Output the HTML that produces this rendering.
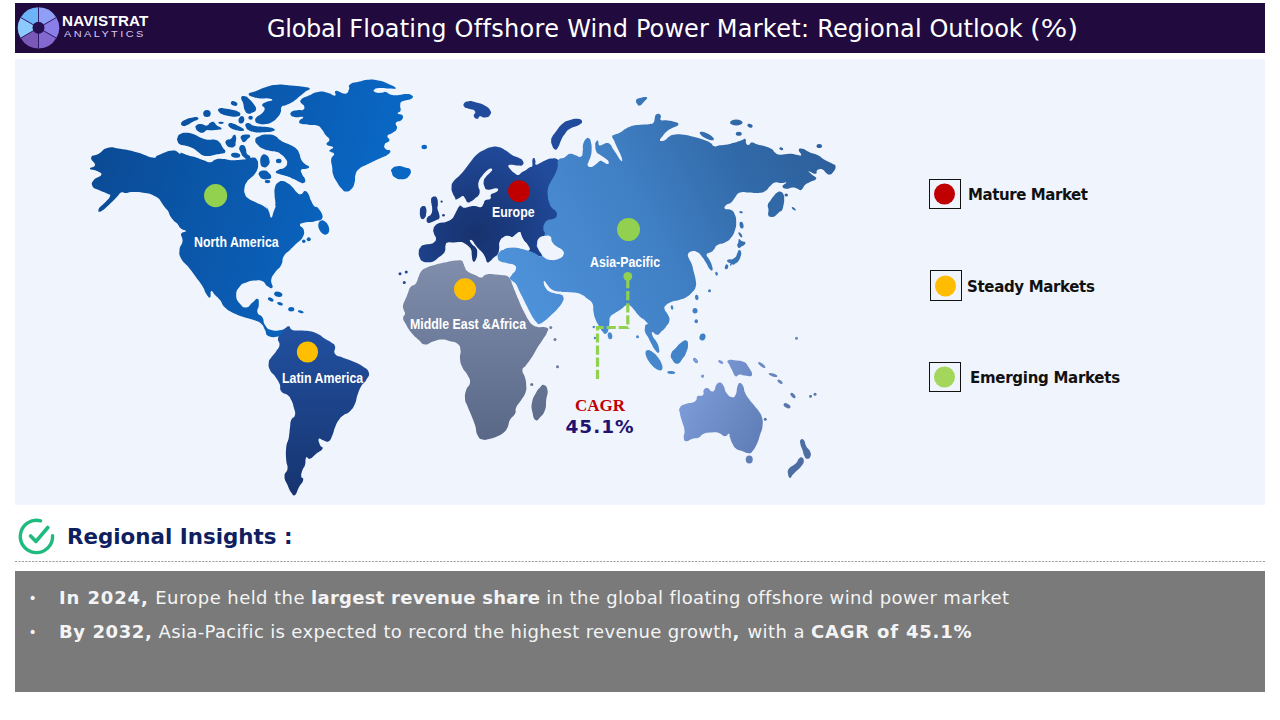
<!DOCTYPE html>
<html><head><meta charset="utf-8"><title>Global Floating Offshore Wind Power Market</title>
<style>
html,body{margin:0;padding:0;background:#fff;}
body{width:1280px;height:720px;position:relative;overflow:hidden;font-family:"DejaVu Sans","Liberation Sans",sans-serif;}
.abs{position:absolute;white-space:nowrap;}
#hdr{left:15px;top:3px;width:1250px;height:49.6px;background:#210a3e;}
#title{left:266.9px;top:12.5px;font-size:24px;color:#fff;white-space:pre;line-height:32px;}
#panel{left:15px;top:59px;width:1250px;height:446px;background:#f0f4fc;}
.lbl{color:#fff;font-family:"Liberation Sans",sans-serif;font-weight:bold;font-size:14.5px;transform-origin:0 50%;}
.leg{font-weight:bold;font-size:15px;letter-spacing:-0.42px;color:#111;}
.box{border:1.3px solid #111;box-sizing:border-box;background:#f0f4fc;}
#ins{left:67px;top:522px;font-weight:bold;font-size:21.4px;color:#0f2060;line-height:30px;}
#grey{left:15px;top:571px;width:1250px;height:121px;background:#7a7a7a;}
.bl{color:#f4f4f4;font-size:18px;line-height:24px;white-space:pre;}
.dot{color:#f4f4f4;font-size:14px;line-height:24px;}
.bl b{font-weight:bold;}
</style></head><body>
<div class="abs" id="hdr"></div>
<div class="abs" id="panel"></div>
<svg class="abs" style="left:0;top:0" width="1280" height="720" viewBox="0 0 1280 720">
<defs>
<linearGradient id="gna" gradientUnits="userSpaceOnUse" x1="90" y1="150" x2="400" y2="250"><stop offset="0" stop-color="#0b4a94"/><stop offset="0.36" stop-color="#0a56a8"/><stop offset="0.6" stop-color="#0a5db4"/><stop offset="0.85" stop-color="#0967c4"/></linearGradient>
<linearGradient id="gsa" gradientUnits="userSpaceOnUse" x1="300" y1="330" x2="300" y2="495"><stop offset="0" stop-color="#21509f"/><stop offset="1" stop-color="#17346f"/></linearGradient>
<linearGradient id="gaf" gradientUnits="userSpaceOnUse" x1="470" y1="265" x2="470" y2="440"><stop offset="0" stop-color="#7f8dab"/><stop offset="1" stop-color="#596887"/></linearGradient>
<radialGradient id="geu" gradientUnits="userSpaceOnUse" cx="476" cy="234" r="95"><stop offset="0" stop-color="#17326e"/><stop offset="0.45" stop-color="#1b3c81"/><stop offset="1" stop-color="#214b9c"/></radialGradient>
<linearGradient id="gas" gradientUnits="userSpaceOnUse" x1="520" y1="300" x2="830" y2="140"><stop offset="0" stop-color="#4e92da"/><stop offset="0.45" stop-color="#3f7ec2"/><stop offset="0.75" stop-color="#3169a8"/><stop offset="1" stop-color="#2d5f9a"/></linearGradient>
<linearGradient id="goc" gradientUnits="userSpaceOnUse" x1="680" y1="390" x2="765" y2="440"><stop offset="0" stop-color="#7f9eda"/><stop offset="1" stop-color="#5e7db6"/></linearGradient>
</defs>
<g fill="url(#gna)"><path d="M90.0 168.8C89.3 167.1 94.7 168.0 95.0 165.0C95.3 162.0 90.2 160.5 91.2 157.5C92.2 154.5 94.4 156.3 98.8 153.8C103.1 151.2 101.8 149.3 107.5 148.0C113.2 146.7 112.0 147.6 120.0 148.8C128.0 149.9 128.8 150.2 137.5 152.5C146.2 154.8 146.8 156.8 152.5 157.5C158.2 158.2 153.4 156.9 158.8 155.0C164.1 153.1 166.8 150.8 172.5 150.5C178.2 150.2 177.7 153.1 180.0 153.8C182.3 154.4 178.9 152.3 181.2 152.8C183.6 153.3 184.8 154.4 188.8 155.6C192.8 156.9 192.2 156.2 196.2 157.5C200.2 158.8 200.0 159.1 203.8 160.3C207.5 161.6 207.1 162.4 210.3 162.2C213.6 161.9 212.4 160.2 215.9 159.4C219.4 158.5 219.2 158.8 223.4 159.0C227.7 159.2 227.4 160.1 231.9 160.3C236.4 160.5 236.3 160.1 240.3 159.8C244.3 159.4 243.4 159.6 246.9 159.0C250.4 158.4 250.7 157.2 253.4 157.5C256.2 157.8 255.9 158.3 257.2 160.3C258.4 162.3 258.1 162.5 258.1 165.0C258.1 167.5 258.2 167.2 257.2 169.7C256.2 172.2 256.1 172.1 254.4 174.4C252.6 176.6 252.6 176.1 250.6 178.1C248.6 180.1 248.5 179.4 246.9 181.9C245.3 184.4 245.1 184.3 244.6 187.5C244.1 190.7 243.9 191.1 245.0 194.1C246.1 197.1 245.8 196.5 248.8 198.8C251.8 201.0 252.2 200.5 256.2 202.5C260.2 204.5 260.5 204.2 263.8 206.2C267.0 208.2 268.1 210.3 268.4 210.0C268.8 209.7 264.9 204.7 265.0 205.0C265.1 205.3 267.1 207.9 268.8 211.2C270.4 214.6 269.9 217.5 271.2 217.5C272.6 217.5 272.4 214.6 273.8 211.2C275.1 207.9 275.9 206.3 276.2 205.0C276.6 203.7 275.2 206.9 275.0 206.2C274.8 205.6 275.5 205.5 275.4 202.5C275.3 199.5 274.7 199.0 274.6 195.0C274.5 191.0 274.1 190.8 275.0 187.5C275.9 184.2 275.8 184.6 277.8 182.8C279.8 181.1 279.8 180.8 282.5 180.9C285.2 181.1 285.4 181.6 288.1 183.4C290.9 185.1 290.3 184.9 292.8 187.5C295.3 190.1 295.2 191.4 297.5 193.1C299.8 194.9 299.2 194.7 301.2 194.1C303.2 193.5 303.1 190.9 305.0 190.9C306.9 190.9 306.8 191.5 308.4 194.1C310.0 196.7 309.4 197.4 311.0 200.6C312.6 203.9 312.5 204.3 314.4 206.2C316.2 208.2 315.8 205.0 318.0 208.0C320.2 211.0 323.3 214.0 322.5 217.5C321.7 221.0 319.7 219.9 315.0 221.2C310.3 222.6 309.0 221.5 305.0 222.5C301.0 223.5 300.3 223.0 300.0 225.0C299.7 227.0 303.1 226.7 303.8 230.0C304.4 233.3 304.5 233.8 302.5 237.5C300.5 241.2 299.6 240.4 296.2 243.8C292.9 247.1 293.3 246.7 290.0 250.0C286.7 253.3 286.1 252.2 283.8 256.2C281.4 260.2 283.6 260.7 281.2 265.0C278.9 269.3 277.7 268.5 275.0 272.5C272.3 276.5 271.9 276.0 271.2 280.0C270.6 284.0 273.5 285.8 272.5 287.5C271.5 289.2 270.2 287.9 267.5 286.2C264.8 284.6 265.8 282.8 262.5 281.2C259.2 279.7 259.3 280.2 255.0 280.5C250.7 280.8 250.2 281.0 246.2 282.5C242.2 284.0 242.7 282.9 240.0 286.2C237.3 289.6 236.2 290.3 236.2 295.0C236.2 299.7 237.3 300.4 240.0 303.8C242.7 307.1 242.9 307.8 246.2 307.5C249.6 307.2 249.5 304.8 252.5 302.5C255.5 300.2 255.8 298.1 257.5 298.8C259.2 299.4 258.8 301.3 258.8 305.0C258.8 308.7 256.5 309.2 257.5 312.5C258.5 315.8 260.5 314.2 262.5 317.5C264.5 320.8 262.7 321.7 265.0 325.0C267.3 328.3 266.9 328.7 271.2 330.0C275.6 331.3 277.2 330.5 281.2 330.0C285.2 329.5 285.6 327.0 286.2 328.0C286.9 329.0 285.4 331.6 283.8 333.8C282.1 335.9 284.0 335.6 280.0 336.2C276.0 336.9 272.8 337.9 268.8 336.2C264.8 334.6 267.0 333.3 265.0 330.0C263.0 326.7 264.2 326.4 261.2 323.8C258.2 321.1 258.1 321.7 253.8 320.0C249.4 318.3 250.0 319.2 245.0 317.5C240.0 315.8 240.3 316.4 235.0 313.8C229.7 311.1 229.0 311.2 225.0 307.5C221.0 303.8 222.7 303.3 220.0 300.0C217.3 296.7 217.3 297.3 215.0 295.0C212.7 292.7 212.6 290.6 211.2 291.2C209.9 291.9 211.3 296.8 210.0 297.5C208.7 298.2 208.2 296.8 206.2 293.8C204.2 290.8 205.2 290.6 202.5 286.2C199.8 281.9 199.9 282.5 196.2 277.5C192.6 272.5 192.8 272.5 188.8 267.5C184.8 262.5 183.7 263.4 181.2 258.8C178.8 254.1 179.2 254.7 179.5 250.0C179.8 245.3 182.0 245.6 182.5 241.2C183.0 236.9 180.2 236.4 181.2 233.8C182.2 231.1 186.2 232.6 186.2 231.2C186.2 229.9 183.6 230.8 181.2 228.8C178.9 226.8 179.8 227.4 177.5 223.8C175.2 220.1 175.8 219.3 172.5 215.0C169.2 210.7 168.0 211.5 165.0 207.5C162.0 203.5 155.9 194.3 161.2 200.0C166.6 205.7 180.7 222.4 185.0 228.8C189.3 235.1 181.2 226.8 177.5 223.8C173.8 220.8 173.9 221.2 171.2 217.5C168.6 213.8 169.8 214.0 167.5 210.0C165.2 206.0 165.8 206.2 162.5 202.5C159.2 198.8 159.7 198.8 155.0 196.2C150.3 193.7 151.0 194.1 145.0 193.0C139.0 191.9 137.5 192.0 132.5 192.0C127.5 192.0 129.2 192.9 126.2 193.0C123.2 193.1 123.6 191.6 121.2 192.5C118.9 193.4 120.5 193.2 117.5 196.2C114.5 199.2 114.3 199.8 110.0 203.8C105.7 207.8 104.2 209.9 101.2 211.2C98.2 212.6 97.8 211.1 98.8 208.8C99.8 206.4 102.0 205.8 105.0 202.5C108.0 199.2 109.3 198.6 110.0 196.2C110.7 193.9 110.5 195.4 107.5 193.8C104.5 192.1 102.8 192.0 98.8 190.0C94.8 188.0 93.8 188.9 92.5 186.2C91.2 183.6 91.4 183.0 93.8 180.0C96.1 177.0 100.2 177.3 101.2 175.0C102.2 172.7 100.5 172.9 97.5 171.2C94.5 169.6 90.7 170.4 90.0 168.8Z"/><path d="M301.2 99.4C303.2 97.4 304.3 97.6 308.8 95.6C313.2 93.6 313.1 92.6 318.1 91.9C323.1 91.1 323.0 91.8 327.5 92.8C332.0 93.8 332.7 96.1 335.0 95.6C337.3 95.1 333.2 91.4 335.9 90.9C338.7 90.4 341.8 94.3 345.3 93.8C348.8 93.2 347.8 91.6 349.1 89.1C350.3 86.6 347.2 86.4 350.0 84.4C352.8 82.4 354.4 82.8 359.4 81.6C364.4 80.3 363.8 79.9 368.8 79.7C373.7 79.4 373.1 79.6 378.1 80.6C383.1 81.6 382.7 81.4 387.5 83.4C392.3 85.4 395.4 86.8 395.9 88.1C396.4 89.5 393.6 88.5 389.4 88.5C385.1 88.5 384.0 87.8 380.0 88.1C376.0 88.4 375.6 88.5 374.4 89.6C373.1 90.7 373.3 91.4 375.3 92.2C377.3 93.1 379.1 92.9 381.9 92.8C384.6 92.7 383.1 91.4 385.6 91.9C388.1 92.4 388.0 93.8 391.2 94.7C394.5 95.6 394.1 95.4 397.8 95.2C401.6 95.1 401.8 94.3 405.3 94.1C408.8 94.0 409.2 93.5 410.9 94.7C412.7 95.8 414.1 96.7 411.9 98.4C409.6 100.2 405.6 99.5 402.5 101.2C399.4 103.0 400.8 102.5 400.2 105.0C399.7 107.5 401.3 108.4 400.6 110.6C400.0 112.9 397.3 112.2 397.8 113.4C398.3 114.7 401.5 113.6 402.5 115.3C403.5 117.1 403.3 118.0 401.6 120.0C399.8 122.0 397.2 120.6 395.9 122.8C394.7 125.1 397.9 125.7 396.9 128.4C395.9 131.2 394.7 131.1 392.2 133.1C389.7 135.1 388.2 133.9 387.5 135.9C386.8 137.9 390.1 138.4 389.4 140.6C388.6 142.9 385.7 142.1 384.7 144.4C383.7 146.6 384.1 147.3 385.6 149.1C387.1 150.8 389.8 149.4 390.3 150.9C390.8 152.4 389.7 152.9 387.5 154.7C385.3 156.4 385.4 155.8 381.9 157.5C378.4 159.2 378.4 159.0 374.4 160.9C370.4 162.8 370.9 162.5 366.9 164.6C362.9 166.7 362.4 166.1 359.4 168.8C356.4 171.4 356.9 170.9 355.6 174.4C354.4 177.9 355.7 178.1 354.7 181.9C353.7 185.6 354.1 185.8 351.9 188.4C349.6 191.0 349.0 191.6 346.2 191.6C343.5 191.6 344.1 191.0 341.6 188.4C339.1 185.8 339.1 185.6 336.9 181.9C334.6 178.1 334.4 178.4 333.1 174.4C331.9 170.4 332.7 170.9 332.2 166.9C331.7 162.9 330.8 162.9 331.2 159.4C331.7 155.9 334.6 156.0 334.1 153.8C333.6 151.5 329.6 152.7 329.4 150.9C329.1 149.2 333.9 148.9 333.1 147.2C332.4 145.4 327.6 146.4 326.6 144.4C325.6 142.4 329.6 142.2 329.4 139.7C329.1 137.2 327.6 137.7 325.6 135.0C323.6 132.3 324.1 131.9 321.9 129.4C319.6 126.9 320.7 126.9 317.2 125.6C313.7 124.4 313.0 125.2 308.8 124.7C304.5 124.2 303.7 124.8 301.2 123.8C298.8 122.8 298.9 122.7 299.4 120.9C299.9 119.2 304.1 118.2 303.1 117.2C302.1 116.2 298.9 117.7 295.6 117.2C292.4 116.7 291.9 116.8 290.9 115.3C289.9 113.8 290.1 112.9 291.9 111.6C293.6 110.2 294.5 110.7 297.5 110.2C300.5 109.8 301.4 110.8 303.1 109.7C304.9 108.5 304.6 107.7 304.1 105.9C303.6 104.2 302.0 104.9 301.2 103.1C300.5 101.4 299.2 101.4 301.2 99.4Z"/><path d="M248.8 93.8C249.5 92.1 251.8 92.7 256.2 90.9C260.7 89.2 260.1 88.8 265.6 87.2C271.1 85.5 270.9 85.3 276.9 84.8C282.9 84.2 281.6 84.8 288.1 85.3C294.6 85.8 295.5 85.8 301.2 86.6C307.0 87.5 308.7 87.1 309.7 88.5C310.7 89.9 307.7 89.7 305.0 91.9C302.3 94.0 302.4 94.1 299.4 96.6C296.4 99.1 297.3 99.0 293.8 101.2C290.2 103.5 289.5 103.5 286.2 105.0C283.0 106.5 283.1 104.9 281.6 106.9C280.1 108.9 281.9 109.5 280.6 112.5C279.4 115.5 279.1 115.6 276.9 118.1C274.6 120.6 275.2 120.3 272.2 121.9C269.2 123.5 269.1 123.6 265.6 124.1C262.1 124.6 261.8 124.6 259.1 123.8C256.3 122.9 255.8 122.8 255.3 120.9C254.8 119.0 255.4 118.6 257.2 116.6C258.9 114.6 259.9 115.5 261.9 113.4C263.9 111.3 264.6 111.0 264.7 108.8C264.8 106.5 262.0 106.7 262.2 105.0C262.5 103.3 263.0 103.4 265.6 102.2C268.3 100.9 271.4 101.3 272.2 100.3C272.9 99.3 271.7 98.9 268.4 98.4C265.2 97.9 264.0 98.8 260.0 98.4C256.0 98.1 256.4 98.4 253.4 97.1C250.4 95.9 248.0 95.4 248.8 93.8Z"/><path d="M241.2 97.5C241.8 95.7 242.7 95.7 245.0 96.2C247.3 96.7 247.2 97.0 249.7 99.4C252.2 101.7 252.7 102.3 254.4 105.0C256.0 107.7 256.4 107.7 255.9 109.7C255.4 111.7 254.7 111.5 252.5 112.5C250.3 113.5 249.9 114.2 247.8 113.4C245.7 112.7 245.9 112.4 244.6 109.7C243.4 106.9 244.0 106.4 243.1 103.1C242.2 99.9 240.7 99.3 241.2 97.5Z"/><path d="M218.8 108.8C220.2 107.8 220.9 108.1 224.4 108.4C227.9 108.6 228.3 108.8 231.9 109.7C235.5 110.5 235.6 110.2 237.9 111.6C240.1 112.9 240.7 113.4 240.3 114.8C240.0 116.1 239.3 116.2 236.6 116.6C233.8 117.0 233.5 116.7 230.0 116.2C226.5 115.8 226.3 115.9 223.4 114.8C220.5 113.6 220.4 113.7 219.1 112.1C217.9 110.5 217.3 109.7 218.8 108.8Z"/><path d="M239.8 117.2C240.9 115.9 242.0 115.6 243.1 116.6C244.3 117.6 244.6 119.1 244.1 120.9C243.6 122.7 242.7 123.2 241.2 123.4C239.8 123.5 239.0 123.2 238.6 121.5C238.2 119.8 238.6 118.5 239.8 117.2Z"/><path d="M181.2 122.8C182.0 121.1 183.2 121.0 185.9 119.6C188.7 118.3 188.6 118.4 191.6 117.8C194.6 117.1 195.5 116.7 197.2 117.2C198.8 117.7 199.0 118.4 197.8 119.6C196.5 120.9 195.2 120.5 192.5 121.9C189.8 123.2 190.3 123.6 187.8 124.7C185.3 125.8 184.9 126.5 183.1 126.0C181.4 125.5 180.5 124.5 181.2 122.8Z"/><path d="M196.2 125.6C197.6 124.5 198.2 124.1 200.9 124.1C203.7 124.1 204.1 126.0 206.6 125.6C209.1 125.3 208.3 123.7 210.3 122.8C212.3 121.9 212.3 121.5 214.1 122.2C215.8 123.0 214.9 124.0 216.9 125.6C218.9 127.3 221.3 127.3 221.6 128.4C221.8 129.5 220.6 129.3 217.8 129.8C215.1 130.2 214.2 130.2 211.2 130.3C208.2 130.5 208.8 129.7 206.6 130.3C204.3 131.0 205.1 132.5 202.8 132.8C200.6 133.0 200.0 132.4 198.1 131.2C196.3 130.1 196.4 129.9 195.9 128.4C195.4 126.9 194.9 126.8 196.2 125.6Z"/><path d="M228.5 124.1C229.2 123.0 230.2 122.9 232.8 123.4C235.5 123.9 235.4 124.3 238.4 126.0C241.4 127.7 243.6 128.4 244.1 129.8C244.6 131.1 242.8 130.9 240.3 130.9C237.8 130.9 237.4 130.7 234.7 129.8C231.9 128.8 231.7 129.0 230.0 127.5C228.3 126.0 227.8 125.2 228.5 124.1Z"/><path d="M245.9 123.8C246.9 122.8 247.7 122.9 249.7 123.4C251.7 123.9 250.7 124.8 253.4 125.6C256.2 126.5 256.3 126.2 260.0 126.6C263.7 127.0 263.8 126.5 267.5 127.1C271.2 127.8 272.7 127.9 274.1 129.0C275.5 130.1 275.5 130.4 272.8 131.2C270.0 132.1 268.4 131.9 263.8 132.2C259.1 132.4 259.3 132.7 255.3 132.2C251.3 131.7 251.2 131.7 248.8 130.3C246.3 129.0 246.7 128.9 245.9 127.1C245.2 125.4 244.9 124.7 245.9 123.8Z"/><path d="M177.5 137.8C178.2 136.0 177.8 135.4 180.3 134.1C182.8 132.7 183.1 132.6 186.9 132.8C190.6 132.9 190.6 133.3 194.4 134.6C198.1 136.0 197.4 136.5 200.9 137.8C204.4 139.2 203.8 139.2 207.5 139.7C211.2 140.2 211.7 138.9 215.0 139.7C218.3 140.4 217.7 140.5 219.7 142.5C221.7 144.5 221.0 144.7 222.5 147.2C224.0 149.7 225.8 150.1 225.3 151.9C224.8 153.6 223.4 153.0 220.6 153.8C217.9 154.5 218.2 154.1 215.0 154.7C211.8 155.3 211.7 155.9 208.4 156.0C205.2 156.1 205.6 156.3 202.8 155.2C200.1 154.2 200.9 153.8 198.1 151.9C195.4 150.0 195.5 149.7 192.5 148.1C189.5 146.5 190.1 146.9 186.9 145.9C183.6 144.9 182.8 145.7 180.3 144.4C177.8 143.1 178.2 142.8 177.5 141.0C176.8 139.2 176.8 139.7 177.5 137.8Z"/><path d="M226.2 140.6C227.5 139.1 228.9 140.2 230.9 138.8C232.9 137.3 232.4 135.5 233.8 135.0C235.1 134.5 235.5 134.9 236.0 136.9C236.5 138.9 236.0 140.0 235.6 142.5C235.3 145.0 236.2 145.0 234.7 146.2C233.2 147.5 232.3 147.7 230.0 147.2C227.7 146.7 227.2 146.1 226.2 144.4C225.2 142.6 225.0 142.1 226.2 140.6Z"/><path d="M241.2 135.9C242.7 134.6 244.5 134.6 246.9 134.6C249.3 134.6 250.0 134.8 250.2 135.9C250.5 137.0 249.5 137.1 247.8 138.8C246.2 140.4 245.7 141.9 244.1 142.1C242.4 142.4 242.4 141.3 241.6 139.7C240.9 138.0 239.8 137.3 241.2 135.9Z"/><path d="M239.4 147.2C240.1 145.2 241.8 144.8 243.5 145.3C245.2 145.8 245.0 146.8 245.9 149.1C246.8 151.3 245.7 151.8 246.9 153.8C248.0 155.8 249.8 155.1 250.2 156.6C250.7 158.1 250.4 159.1 248.8 159.4C247.1 159.6 246.2 159.3 244.1 157.5C242.0 155.7 242.1 155.6 240.9 152.8C239.6 150.1 238.7 149.2 239.4 147.2Z"/><path d="M255.3 139.7C255.8 137.2 256.7 137.3 260.0 135.9C263.3 134.6 263.5 134.6 267.5 134.6C271.5 134.6 271.7 134.6 275.0 135.9C278.3 137.3 277.2 137.9 279.7 139.7C282.2 141.4 281.4 141.0 284.4 142.5C287.4 144.0 287.7 143.6 290.9 145.3C294.2 147.1 294.3 146.8 296.6 149.1C298.8 151.3 298.1 151.0 299.4 153.8C300.6 156.5 299.8 156.6 301.2 159.4C302.7 162.1 302.9 162.1 305.0 164.1C307.1 166.1 308.9 165.6 309.1 166.9C309.4 168.1 308.0 168.0 305.9 168.8C303.8 169.5 302.2 168.2 301.2 169.7C300.2 171.2 301.2 171.9 302.2 174.4C303.2 176.9 304.5 176.8 305.0 179.1C305.5 181.3 305.6 182.1 304.1 182.8C302.6 183.6 302.1 182.9 299.4 181.9C296.6 180.9 297.0 180.6 293.8 179.1C290.5 177.6 290.7 177.5 287.2 176.2C283.7 175.0 283.6 175.4 280.6 174.4C277.6 173.4 276.4 173.8 275.9 172.5C275.4 171.2 276.5 170.9 278.8 169.7C281.0 168.4 282.1 169.6 284.4 167.8C286.6 166.1 286.9 165.6 287.2 163.1C287.4 160.6 286.8 160.7 285.3 158.4C283.8 156.2 283.8 156.4 281.6 154.7C279.3 152.9 279.9 152.9 276.9 151.9C273.9 150.9 273.8 151.7 270.3 150.9C266.8 150.2 267.0 150.6 263.8 149.1C260.5 147.6 260.4 147.8 258.1 145.3C255.9 142.8 254.8 142.2 255.3 139.7Z"/><path d="M261.9 155.6C263.5 153.5 264.6 154.0 266.6 155.2C268.6 156.5 268.9 157.7 269.4 160.3C269.9 162.9 269.9 163.1 268.4 165.0C266.9 166.9 265.9 167.8 263.8 167.2C261.6 166.7 260.9 166.2 260.4 163.1C259.9 160.0 260.2 157.7 261.9 155.6Z"/><path d="M259.1 172.5C260.2 171.0 261.2 170.6 263.8 170.6C266.3 170.6 266.4 170.7 268.4 172.5C270.4 174.3 271.5 175.4 271.2 177.2C271.0 178.9 269.8 178.6 267.5 179.1C265.2 179.6 264.9 179.8 262.8 179.1C260.7 178.3 260.6 178.0 259.6 176.2C258.6 174.5 258.0 174.0 259.1 172.5Z"/><path d="M392.0 168.8C393.5 167.1 394.0 166.6 397.5 166.2C401.0 165.9 401.5 166.5 405.0 167.5C408.5 168.5 409.5 167.7 410.5 170.0C411.5 172.3 410.9 173.8 408.8 176.2C406.6 178.7 406.2 178.9 402.5 179.2C398.8 179.6 397.9 179.3 395.0 177.5C392.1 175.7 392.6 174.8 391.8 172.5C390.9 170.2 390.5 170.4 392.0 168.8Z"/></g>
<ellipse fill="url(#gna)" cx="234.12" cy="103.5" rx="3.38" ry="2.25" transform="rotate(20 234.12 103.5)"/>
<ellipse fill="url(#gna)" cx="206.94" cy="113.44" rx="3.75" ry="3.56"/>
<ellipse fill="url(#gna)" cx="250.62" cy="117.75" rx="2.25" ry="2.06"/>
<ellipse fill="url(#gna)" cx="221.0" cy="122.81" rx="2.81" ry="1.12"/>
<ellipse fill="url(#gna)" cx="235.62" cy="155.25" rx="4.69" ry="2.44" transform="rotate(10 235.62 155.25)"/>
<ellipse fill="url(#gna)" cx="278.75" cy="160.88" rx="2.81" ry="2.25"/>
<ellipse fill="url(#gna)" cx="267.5" cy="181.5" rx="2.81" ry="1.69"/>
<ellipse fill="url(#gna)" cx="424.25" cy="147.0" rx="2.75" ry="2.25"/>
<ellipse fill="url(#gna)" cx="323.75" cy="227.5" rx="5.0" ry="7.5" transform="rotate(-25 323.75 227.5)"/>
<ellipse fill="url(#gna)" cx="303.75" cy="241.25" rx="1.75" ry="1.75"/>
<ellipse fill="url(#gna)" cx="308.75" cy="239.25" rx="2.0" ry="2.0"/>
<ellipse fill="url(#gna)" cx="278.25" cy="294.25" rx="4.25" ry="2.5" transform="rotate(15 278.25 294.25)"/>
<ellipse fill="url(#gna)" cx="270.75" cy="299.5" rx="3.0" ry="1.75" transform="rotate(25 270.75 299.5)"/>
<ellipse fill="url(#gna)" cx="280.0" cy="303.75" rx="3.0" ry="1.5" transform="rotate(20 280.0 303.75)"/>
<ellipse fill="url(#gna)" cx="291.25" cy="309.25" rx="3.0" ry="2.25"/>
<ellipse fill="url(#gna)" cx="300.75" cy="311.75" rx="3.0" ry="1.25" transform="rotate(15 300.75 311.75)"/>
<g fill="url(#gsa)"><path d="M288.8 326.2C290.8 326.6 289.5 328.9 292.5 330.0C295.5 331.1 295.3 330.2 300.0 330.5C304.7 330.8 305.3 330.4 310.0 331.2C314.7 332.1 313.5 331.8 317.5 333.8C321.5 335.8 321.3 336.4 325.0 338.8C328.7 341.1 328.6 340.5 331.2 342.5C333.9 344.5 334.0 343.2 335.0 346.2C336.0 349.2 333.0 350.8 335.0 353.8C337.0 356.8 337.8 355.5 342.5 357.5C347.2 359.5 347.2 358.9 352.5 361.2C357.8 363.6 358.2 363.2 362.5 366.2C366.8 369.2 367.8 368.8 368.8 372.5C369.8 376.2 368.2 376.3 366.2 380.0C364.2 383.7 363.6 382.2 361.2 386.2C358.9 390.2 359.2 390.3 357.5 395.0C355.8 399.7 357.0 399.4 355.0 403.8C353.0 408.1 353.0 408.2 350.0 411.2C347.0 414.2 346.8 412.7 343.8 415.0C340.8 417.3 341.1 416.7 338.8 420.0C336.4 423.3 336.7 423.5 335.0 427.5C333.3 431.5 334.2 431.3 332.5 435.0C330.8 438.7 331.1 439.8 328.8 441.2C326.4 442.7 326.4 441.2 323.8 440.5C321.1 439.8 319.8 437.6 318.8 438.8C317.8 439.9 319.0 442.3 320.0 445.0C321.0 447.7 323.5 446.4 322.5 448.8C321.5 451.1 319.6 451.1 316.2 453.8C312.9 456.4 312.7 457.8 310.0 458.8C307.3 459.8 307.6 455.8 306.2 457.5C304.9 459.2 306.0 461.7 305.0 465.0C304.0 468.3 303.5 467.0 302.5 470.0C301.5 473.0 301.1 473.6 301.2 476.2C301.4 478.9 303.9 477.0 303.2 480.0C302.6 483.0 300.9 483.5 298.8 487.5C296.6 491.5 297.0 493.7 295.0 495.0C293.0 496.3 293.2 495.2 291.2 492.5C289.2 489.8 289.3 489.3 287.5 485.0C285.7 480.7 284.5 480.6 284.5 476.2C284.5 471.9 287.0 473.1 287.5 468.8C288.0 464.4 286.6 465.7 286.2 460.0C285.9 454.3 285.6 453.5 286.2 447.5C286.9 441.5 287.8 442.8 288.8 437.5C289.8 432.2 289.3 432.2 290.0 427.5C290.7 422.8 289.9 423.3 291.2 420.0C292.6 416.7 294.3 418.3 295.0 415.0C295.7 411.7 294.8 411.5 293.8 407.5C292.8 403.5 292.9 403.3 291.2 400.0C289.6 396.7 290.2 397.3 287.5 395.0C284.8 392.7 283.4 394.2 281.2 391.2C279.1 388.2 281.2 387.8 279.5 383.8C277.8 379.8 277.5 379.9 275.0 376.2C272.5 372.6 271.7 373.7 270.0 370.0C268.3 366.3 268.4 365.8 268.8 362.5C269.1 359.2 269.2 360.5 271.2 357.5C273.2 354.5 274.1 354.6 276.2 351.2C278.4 347.9 279.0 348.3 279.5 345.0C280.0 341.7 277.5 341.8 278.0 338.8C278.5 335.8 279.4 336.4 281.2 333.8C283.1 331.1 283.0 330.8 285.0 328.8C287.0 326.8 286.8 325.9 288.8 326.2Z"/></g>
<g fill="url(#gaf)"><path d="M421.9 270.6C424.0 268.3 424.0 268.8 426.9 267.5C429.7 266.2 429.0 266.7 432.5 265.6C436.0 264.6 436.0 264.5 440.0 263.5C444.0 262.5 443.5 262.6 447.5 261.9C451.5 261.1 451.3 261.0 455.0 260.6C458.7 260.3 459.0 259.8 461.2 260.6C463.5 261.5 462.5 261.9 463.5 263.8C464.5 265.6 463.9 265.5 465.0 267.5C466.1 269.5 464.8 269.2 467.5 271.2C470.2 273.2 471.3 273.3 475.0 275.0C478.7 276.7 478.6 277.5 481.2 277.5C483.9 277.5 482.7 275.9 485.0 275.0C487.3 274.1 487.3 274.2 490.0 274.0C492.7 273.8 492.0 274.1 495.0 274.4C498.0 274.6 497.9 274.5 501.2 275.0C504.6 275.5 505.0 274.9 507.5 276.2C510.0 277.6 509.3 277.7 510.6 280.0C512.0 282.3 511.3 282.0 512.5 285.0C513.7 288.0 513.5 287.6 515.0 291.2C516.5 294.9 516.5 294.8 518.1 298.8C519.8 302.8 519.4 302.2 521.2 306.2C523.1 310.2 523.0 309.9 525.0 313.8C527.0 317.6 526.8 317.7 528.8 320.6C530.8 323.6 530.2 323.1 532.5 324.8C534.8 326.4 533.7 326.1 537.5 326.9C541.3 327.7 544.3 326.3 546.9 327.8C549.4 329.2 548.2 329.2 547.0 332.5C545.8 335.8 545.0 336.0 542.5 340.0C540.0 344.0 540.2 343.2 537.5 347.5C534.8 351.8 535.5 351.6 532.5 356.2C529.5 360.9 528.9 361.3 526.2 365.0C523.6 368.7 522.8 366.7 522.5 370.0C522.2 373.3 524.0 373.5 525.0 377.5C526.0 381.5 526.1 381.0 526.2 385.0C526.4 389.0 526.8 388.5 525.5 392.5C524.2 396.5 523.7 396.0 521.2 400.0C518.8 404.0 517.9 403.8 516.2 407.5C514.6 411.2 516.7 410.4 515.0 413.8C513.3 417.1 512.0 416.3 510.0 420.0C508.0 423.7 509.2 424.2 507.5 427.5C505.8 430.8 506.4 430.2 503.8 432.5C501.1 434.8 501.2 434.6 497.5 436.2C493.8 437.9 494.0 437.9 490.0 438.8C486.0 439.6 485.8 440.5 482.5 439.5C479.2 438.5 479.5 438.9 477.5 435.0C475.5 431.1 476.7 430.3 475.0 425.0C473.3 419.7 473.2 420.0 471.2 415.0C469.2 410.0 469.2 410.6 467.5 406.2C465.8 401.9 465.3 403.1 465.0 398.8C464.7 394.4 464.9 394.3 466.2 390.0C467.6 385.7 469.7 386.5 470.0 382.5C470.3 378.5 469.5 379.0 467.5 375.0C465.5 371.0 464.5 371.8 462.5 367.5C460.5 363.2 460.5 363.4 460.0 358.8C459.5 354.1 461.2 354.0 460.5 350.0C459.8 346.0 460.3 346.1 457.5 343.8C454.7 341.4 454.0 342.4 450.0 341.2C446.0 340.1 446.8 339.5 442.5 339.5C438.2 339.5 438.4 339.9 433.8 341.2C429.1 342.6 429.0 344.7 425.0 344.4C421.0 344.0 422.4 343.2 418.8 340.0C415.1 336.8 414.8 336.8 411.2 332.5C407.7 328.2 407.8 327.6 405.6 323.8C403.5 319.9 403.3 320.8 403.1 318.1C403.0 315.5 404.8 315.9 405.0 313.8C405.2 311.6 404.3 312.3 403.8 310.0C403.2 307.7 402.5 308.3 403.1 305.0C403.8 301.7 404.9 300.8 406.2 297.5C407.6 294.2 407.0 295.3 408.1 292.5C409.3 289.7 408.6 289.2 410.6 286.9C412.6 284.5 413.5 286.6 415.6 283.8C417.8 280.9 417.1 279.8 418.8 276.2C420.4 272.7 419.7 273.0 421.9 270.6Z"/><path d="M543.8 385.0C545.8 385.7 546.8 386.0 547.5 390.0C548.2 394.0 546.9 394.7 546.2 400.0C545.6 405.3 546.7 405.3 545.0 410.0C543.3 414.7 542.5 414.8 540.0 417.5C537.5 420.2 537.5 421.3 535.5 420.0C533.5 418.7 533.4 417.2 532.5 412.5C531.6 407.8 531.0 407.8 532.0 402.5C533.0 397.2 534.1 396.5 536.2 392.5C538.4 388.5 538.0 389.5 540.0 387.5C542.0 385.5 541.8 384.3 543.8 385.0Z"/></g>
<ellipse fill="url(#gaf)" cx="550.75" cy="327.5" rx="1.5" ry="1.5"/>
<ellipse fill="url(#gaf)" cx="555.0" cy="339.5" rx="1.5" ry="1.5"/>
<ellipse fill="url(#gaf)" cx="557.5" cy="366.75" rx="1.5" ry="1.5"/>
<ellipse fill="url(#gaf)" cx="531.75" cy="384.5" rx="1.5" ry="1.5"/>
<g fill="url(#geu)"><path d="M451.6 187.2C451.8 184.2 451.2 184.8 453.4 181.6C455.7 178.3 456.8 178.5 460.0 175.0C463.2 171.5 462.6 172.2 465.6 168.4C468.6 164.7 468.2 164.7 471.2 160.9C474.3 157.2 473.4 157.4 476.9 154.4C480.4 151.4 480.4 151.7 484.4 149.7C488.4 147.7 487.9 147.5 491.9 146.9C495.9 146.2 495.6 146.3 499.4 147.2C503.1 148.2 502.4 148.5 505.9 150.6C509.4 152.8 509.0 153.3 512.5 155.3C516.0 157.3 516.3 156.6 519.1 158.1C521.8 159.6 521.8 159.2 522.8 160.9C523.8 162.7 524.1 163.4 522.8 164.7C521.6 165.9 520.9 165.6 518.1 165.6C515.4 165.6 515.1 164.7 512.5 164.7C509.9 164.7 508.9 164.4 508.4 165.6C507.9 166.9 509.0 167.4 510.6 169.4C512.2 171.4 512.4 171.6 514.4 173.1C516.4 174.6 516.1 175.2 518.1 175.0C520.1 174.8 519.9 173.4 521.9 172.2C523.9 170.9 523.6 171.6 525.6 170.3C527.6 169.1 527.6 168.6 529.4 167.5C531.1 166.4 531.4 168.0 532.2 166.0C533.0 164.0 531.9 162.1 532.4 160.0C532.9 157.9 533.3 157.9 534.1 158.1C534.9 158.4 534.9 159.2 535.4 160.9C535.9 162.7 534.5 164.2 535.9 164.7C537.3 165.2 537.9 164.1 540.6 162.8C543.4 161.6 543.2 161.1 546.2 160.0C549.3 158.9 548.6 158.5 551.9 158.5C555.1 158.5 553.9 157.6 558.4 160.0C562.9 162.4 566.0 155.5 568.8 167.5C571.5 179.5 570.8 187.0 568.8 205.0C566.8 223.0 566.2 225.0 561.2 235.0C556.2 245.0 555.5 241.5 550.0 242.5C544.5 243.5 543.9 238.8 540.6 238.8C537.4 238.8 538.3 240.2 537.8 242.5C537.3 244.8 537.8 244.4 538.8 247.2C539.8 249.9 540.7 250.3 541.6 252.8C542.5 255.3 543.9 256.1 542.1 256.6C540.4 257.1 538.4 256.0 535.0 254.7C531.6 253.3 531.4 253.8 529.4 251.5C527.4 249.2 528.8 248.9 527.5 246.2C526.2 243.6 526.2 244.2 524.7 241.6C523.2 239.0 523.1 239.0 521.9 236.5C520.6 234.0 521.6 232.7 520.0 232.2C518.4 231.6 517.9 233.2 515.9 234.4C513.9 235.7 514.7 236.5 512.5 236.9C510.3 237.3 510.2 235.8 507.8 235.9C505.4 236.0 505.5 235.9 503.5 237.2C501.5 238.6 501.4 238.3 500.3 241.0C499.2 243.7 500.0 243.8 499.4 247.2C498.7 250.6 499.4 251.0 497.9 253.8C496.4 256.5 495.9 255.5 493.8 257.5C491.6 259.5 491.7 260.0 490.0 261.2C488.3 262.5 488.4 263.2 487.2 262.2C485.9 261.2 486.6 260.0 485.3 257.5C484.1 255.0 484.2 255.1 482.5 252.8C480.8 250.6 480.8 251.3 478.8 249.1C476.8 246.8 476.7 246.6 475.0 244.4C473.3 242.1 473.6 241.6 472.2 240.6C470.8 239.6 469.8 239.6 469.8 240.6C469.8 241.6 470.5 242.5 472.2 244.4C473.8 246.3 474.6 245.5 475.9 247.8C477.3 250.0 477.2 249.7 477.2 252.8C477.2 255.9 477.0 257.1 475.9 259.4C474.8 261.6 474.2 262.3 473.1 261.2C472.0 260.2 472.3 258.6 471.8 255.6C471.3 252.6 472.1 252.5 471.2 250.0C470.4 247.5 470.2 248.0 468.4 246.2C466.7 244.5 466.9 244.5 464.7 243.4C462.4 242.3 462.7 242.4 460.0 242.1C457.3 241.9 457.6 242.4 454.4 242.5C451.1 242.6 450.2 241.8 447.8 242.5C445.5 243.2 446.3 243.1 445.6 245.3C444.8 247.6 445.9 248.4 445.0 250.9C444.1 253.4 443.9 252.9 442.2 254.7C440.4 256.4 440.7 255.8 438.4 257.5C436.2 259.2 436.5 260.0 433.8 261.2C431.0 262.5 431.1 262.2 428.1 262.2C425.1 262.2 424.7 262.5 422.5 261.2C420.3 260.0 420.7 260.0 419.7 257.5C418.7 255.0 418.5 254.6 418.8 251.9C419.0 249.1 419.1 249.1 420.6 247.2C422.1 245.3 421.9 245.6 424.4 244.8C426.9 243.9 427.5 244.6 430.0 244.0C432.5 243.4 432.1 243.9 433.8 242.5C435.4 241.1 435.9 241.0 436.0 238.8C436.1 236.5 434.8 236.6 434.1 234.1C433.4 231.6 433.0 231.7 433.4 229.4C433.8 227.0 433.8 227.0 435.6 225.2C437.5 223.5 437.6 223.7 440.3 222.8C443.1 221.9 442.9 222.9 445.9 221.9C448.9 220.9 449.1 221.3 451.6 219.1C454.1 216.8 453.6 216.4 455.3 213.4C457.1 210.4 457.0 210.1 458.1 207.8C459.3 205.6 460.1 206.5 459.6 205.0C459.1 203.5 457.4 203.9 456.2 202.2C455.1 200.4 456.3 200.9 455.3 198.4C454.3 195.9 453.5 195.8 452.5 192.8C451.5 189.8 451.3 190.2 451.6 187.2Z"/><path d="M431.9 197.5C432.8 196.5 433.3 196.3 434.7 196.6C436.1 196.8 436.3 196.4 437.1 198.4C438.0 200.4 437.8 201.3 437.9 204.1C438.0 206.8 437.2 206.2 437.5 208.8C437.8 211.3 438.5 210.9 439.0 213.4C439.5 215.9 440.0 216.4 439.4 218.1C438.7 219.9 438.6 219.0 436.6 220.0C434.6 221.0 434.1 221.1 431.9 221.9C429.6 222.6 429.5 223.3 428.1 222.8C426.7 222.3 426.6 221.7 426.6 220.0C426.6 218.3 427.0 218.1 428.1 216.6C429.3 215.1 429.8 216.2 430.9 214.4C432.0 212.5 432.1 212.4 432.2 209.7C432.4 206.9 431.8 206.6 431.5 204.1C431.2 201.6 431.0 202.1 431.1 200.3C431.2 198.6 430.9 198.5 431.9 197.5Z"/><path d="M420.6 207.8C421.6 206.3 422.0 205.9 423.4 205.9C424.8 205.9 425.1 205.8 425.9 207.8C426.6 209.8 426.6 210.8 426.2 213.4C425.9 216.1 425.9 216.3 424.8 217.8C423.6 219.2 423.3 219.5 422.1 219.1C420.9 218.7 420.8 218.2 420.2 216.2C419.7 214.2 419.8 213.8 419.9 211.6C420.0 209.3 419.7 209.3 420.6 207.8Z"/><path d="M463.8 103.8C464.8 102.1 465.4 101.6 468.8 101.2C472.1 100.9 472.2 101.5 476.2 102.5C480.2 103.5 480.1 103.0 483.8 105.0C487.4 107.0 488.3 107.3 490.0 110.0C491.7 112.7 491.3 113.0 490.0 115.0C488.7 117.0 487.7 117.2 485.0 117.5C482.3 117.8 482.0 115.9 480.0 116.2C478.0 116.6 479.2 118.8 477.5 118.8C475.8 118.8 474.4 118.2 473.8 116.2C473.1 114.2 476.3 113.2 475.0 111.2C473.7 109.2 471.4 109.8 468.8 108.8C466.1 107.8 466.3 108.8 465.0 107.5C463.7 106.2 462.8 105.4 463.8 103.8Z"/><path d="M552.5 136.2C553.8 133.9 553.6 134.6 556.2 131.2C558.9 127.9 558.8 126.8 562.5 123.8C566.2 120.8 566.0 121.3 570.0 120.0C574.0 118.7 574.3 118.4 577.5 118.8C580.7 119.1 581.7 119.6 582.0 121.2C582.3 122.9 582.0 123.0 578.8 125.0C575.5 127.0 573.7 126.4 570.0 128.8C566.3 131.1 567.3 130.8 565.0 133.8C562.7 136.8 563.1 136.3 561.2 140.0C559.4 143.7 559.7 145.0 558.0 147.5C556.3 150.0 556.6 150.2 555.0 149.5C553.4 148.8 553.0 147.5 552.0 145.0C551.0 142.5 551.1 142.3 551.2 140.0C551.4 137.7 551.2 138.6 552.5 136.2Z"/></g>
<ellipse fill="url(#geu)" cx="441.62" cy="201.62" rx="1.12" ry="1.12"/>
<ellipse fill="url(#geu)" cx="443.5" cy="215.31" rx="1.31" ry="1.31"/>
<ellipse fill="url(#geu)" cx="400.0" cy="273.75" rx="1.5" ry="1.5"/>
<ellipse fill="url(#geu)" cx="406.25" cy="272.0" rx="1.5" ry="1.5"/>
<ellipse fill="url(#geu)" cx="404.25" cy="282.5" rx="1.5" ry="1.5"/>
<g fill="url(#gas)"><path d="M558.4 160.0C556.6 162.7 558.5 163.5 557.5 167.5C556.5 171.5 556.4 171.3 554.7 175.0C552.9 178.7 552.7 178.1 550.9 181.6C549.2 185.1 549.0 184.4 548.1 188.1C547.3 191.9 547.5 191.9 547.8 195.6C548.0 199.4 548.0 198.9 549.1 202.2C550.2 205.4 550.0 205.3 551.9 207.8C553.7 210.3 554.8 209.3 556.0 211.6C557.2 213.8 557.4 214.2 556.6 216.2C555.7 218.2 555.1 218.1 552.8 219.1C550.6 220.1 550.4 218.7 548.1 220.0C545.9 221.3 545.6 221.2 544.4 223.8C543.1 226.3 543.4 226.4 543.4 229.4C543.4 232.4 546.0 231.2 544.4 235.0C542.7 238.8 538.9 240.2 537.2 243.8C535.5 247.3 537.1 245.9 538.1 248.4C539.1 250.9 540.2 250.9 540.9 253.1C541.7 255.4 542.7 256.9 540.9 256.9C539.2 256.9 538.1 254.9 534.4 253.1C530.6 251.4 530.6 251.6 526.9 250.3C523.1 249.1 524.3 249.2 520.3 248.4C516.3 247.7 516.1 247.4 511.9 247.5C507.6 247.6 507.9 247.5 504.4 249.0C500.9 250.5 500.5 250.8 498.8 253.1C497.0 255.5 497.3 255.6 497.8 257.8C498.3 260.1 497.9 260.1 500.6 261.6C503.4 263.1 504.4 262.4 508.1 263.4C511.9 264.4 512.7 263.6 514.7 265.3C516.7 267.1 516.4 267.5 515.6 270.0C514.9 272.5 513.4 272.4 511.9 274.7C510.4 277.0 509.6 276.7 510.0 278.6C510.4 280.5 511.7 280.3 513.4 281.8C515.0 283.4 514.6 281.9 516.2 284.4C517.8 286.9 517.7 287.7 519.4 291.2C521.1 294.6 520.7 293.7 522.6 297.4C524.4 301.0 524.3 300.9 526.3 304.9C528.3 308.9 528.1 308.7 530.1 312.4C532.1 316.1 531.9 315.9 533.8 318.8C535.7 321.6 535.7 321.5 537.2 322.9C538.6 324.3 537.5 324.4 539.2 324.0C541.0 323.6 540.5 324.0 543.8 321.6C547.0 319.2 547.5 318.5 551.2 315.0C555.0 311.5 554.8 311.9 557.8 308.4C560.8 304.9 561.0 304.9 562.5 301.9C564.0 298.9 563.9 299.2 563.4 297.2C562.9 295.2 562.9 295.4 560.6 294.4C558.4 293.4 558.0 294.2 555.0 293.4C552.0 292.7 551.9 293.1 549.4 291.6C546.9 290.1 547.1 290.1 545.6 287.8C544.1 285.6 544.0 284.9 543.8 283.1C543.5 281.4 543.7 280.7 544.7 281.2C545.7 281.8 545.5 282.7 547.5 285.0C549.5 287.3 549.2 287.9 552.2 289.7C555.2 291.4 555.0 290.9 558.8 291.6C562.5 292.2 562.2 291.9 566.2 292.1C570.2 292.4 569.8 291.9 573.8 292.5C577.8 293.1 577.5 292.6 581.2 294.4C585.0 296.1 584.8 296.6 587.8 299.1C590.8 301.6 591.0 300.5 592.5 303.8C594.0 307.0 592.7 307.2 593.4 311.2C594.2 315.2 593.8 314.8 595.3 318.8C596.8 322.8 597.1 322.7 599.1 326.2C601.1 329.8 601.1 329.9 602.8 331.9C604.6 333.9 604.1 334.3 605.6 333.8C607.1 333.2 607.4 333.0 608.4 330.0C609.4 327.0 608.9 326.0 609.4 322.5C609.9 319.0 608.8 319.4 610.3 316.9C611.8 314.4 612.3 315.1 615.0 313.1C617.7 311.1 617.4 311.6 620.6 309.4C623.9 307.1 624.7 305.7 627.2 304.7C629.7 303.7 628.3 304.4 630.0 305.6C631.7 306.9 631.5 306.9 633.8 309.4C636.0 311.9 636.4 312.8 638.4 315.0C640.4 317.2 639.5 316.3 641.2 317.8C643.0 319.3 643.0 318.4 645.0 320.6C647.0 322.9 648.0 323.0 648.8 326.2C649.5 329.5 647.6 329.3 647.8 332.8C648.1 336.3 648.2 335.9 649.7 339.4C651.2 342.9 651.4 342.7 653.4 345.9C655.4 349.2 655.9 350.8 657.2 351.6C658.4 352.3 658.6 351.5 658.1 348.8C657.6 346.0 656.8 344.8 655.3 341.2C653.8 337.7 653.2 338.1 652.5 335.6C651.8 333.1 651.2 332.1 652.5 331.9C653.8 331.6 654.9 334.7 657.2 334.7C659.4 334.7 658.7 333.9 660.9 331.9C663.2 329.9 663.4 330.2 665.6 327.2C667.9 324.2 668.9 324.1 669.4 320.6C669.9 317.1 668.8 317.1 667.5 314.1C666.2 311.1 665.2 311.6 664.7 309.4C664.2 307.1 663.9 307.6 665.6 305.6C667.4 303.6 667.7 303.4 671.2 301.9C674.8 300.4 674.8 301.3 678.8 300.0C682.8 298.7 682.7 299.2 686.2 297.2C689.8 295.2 689.4 295.2 691.9 292.5C694.4 289.8 694.6 290.4 695.6 286.9C696.6 283.4 696.1 283.4 695.6 279.4C695.1 275.4 694.7 275.9 693.8 271.9C692.8 267.9 693.1 267.9 691.9 264.4C690.6 260.9 690.1 261.5 689.1 258.8C688.1 256.0 687.4 256.1 688.1 254.1C688.9 252.1 689.4 251.7 691.9 251.2C694.4 250.8 694.8 250.7 697.5 252.2C700.2 253.7 699.9 254.1 702.2 256.9C704.4 259.6 703.9 259.3 705.9 262.5C707.9 265.7 707.9 267.1 709.7 269.1C711.4 271.1 712.0 271.2 712.5 270.0C713.0 268.8 712.6 267.4 711.6 264.4C710.6 261.4 710.0 261.5 708.8 258.8C707.5 256.0 705.9 256.1 706.9 254.1C707.9 252.1 710.3 253.2 712.5 251.2C714.7 249.2 716.3 245.6 715.3 246.6C714.3 247.6 709.5 254.1 708.8 255.0C708.0 255.9 710.2 252.7 712.5 250.0C714.8 247.3 714.2 247.0 717.5 245.0C720.8 243.0 721.3 244.5 725.0 242.5C728.7 240.5 728.6 240.8 731.2 237.5C733.9 234.2 733.7 234.0 735.0 230.0C736.3 226.0 736.2 226.5 736.2 222.5C736.2 218.5 736.3 218.3 735.0 215.0C733.7 211.7 733.9 211.7 731.2 210.0C728.6 208.3 726.3 210.1 725.0 208.8C723.7 207.4 724.6 206.7 726.2 205.0C727.9 203.3 728.9 204.5 731.2 202.5C733.6 200.5 732.7 200.2 735.0 197.5C737.3 194.8 736.3 193.8 740.0 192.5C743.7 191.2 744.1 192.4 748.8 192.5C753.4 192.6 753.2 193.3 757.5 193.0C761.8 192.7 761.7 193.1 765.0 191.2C768.3 189.4 767.3 188.6 770.0 186.2C772.7 183.9 772.0 183.4 775.0 182.5C778.0 181.6 778.2 183.0 781.2 183.0C784.2 183.0 785.9 181.6 786.2 182.5C786.6 183.4 782.5 184.6 782.5 186.2C782.5 187.9 783.6 188.4 786.2 188.8C788.9 189.1 789.5 187.5 792.5 187.5C795.5 187.5 795.2 188.1 797.5 188.8C799.8 189.4 799.2 191.0 801.2 190.0C803.2 189.0 802.7 187.1 805.0 185.0C807.3 182.9 807.0 183.7 810.0 182.0C813.0 180.3 815.6 180.6 816.2 178.8C816.9 176.9 814.5 177.0 812.5 175.0C810.5 173.0 808.0 171.6 808.8 171.2C809.5 170.9 813.2 174.1 815.5 173.8C817.8 173.4 815.6 171.1 817.5 170.0C819.4 168.9 820.2 168.7 822.5 169.5C824.8 170.3 824.2 171.7 826.2 173.0C828.2 174.3 828.0 175.0 830.0 174.5C832.0 174.0 832.3 173.4 833.8 171.2C835.2 169.1 835.8 168.2 835.5 166.2C835.2 164.2 835.3 165.4 832.5 163.8C829.7 162.1 829.0 162.3 825.0 160.0C821.0 157.7 821.5 157.0 817.5 155.0C813.5 153.0 814.0 154.2 810.0 152.5C806.0 150.8 805.5 149.4 802.5 148.8C799.5 148.1 799.1 148.3 798.8 150.0C798.4 151.7 801.6 153.7 801.2 155.0C800.9 156.3 800.5 155.3 797.5 155.0C794.5 154.7 794.7 153.8 790.0 153.8C785.3 153.7 783.9 154.9 780.0 154.7C776.1 154.4 777.6 154.3 775.3 152.8C773.1 151.3 774.3 150.8 771.6 149.1C768.8 147.3 768.7 147.5 765.0 146.2C761.3 145.0 761.0 145.4 757.5 144.4C754.0 143.4 754.1 142.4 751.9 142.5C749.6 142.6 750.6 144.5 749.1 144.8C747.6 145.0 747.2 144.9 746.2 143.4C745.2 141.9 746.6 140.0 745.3 139.1C744.1 138.3 744.3 139.3 741.6 140.2C738.8 141.2 738.7 141.4 735.0 142.5C731.3 143.6 731.5 143.6 727.5 144.4C723.5 145.1 723.5 144.8 720.0 145.3C716.5 145.8 716.9 146.9 714.4 146.2C711.9 145.6 713.1 144.5 710.6 142.9C708.1 141.3 708.5 141.6 705.0 140.2C701.5 138.9 701.5 139.0 697.5 137.8C693.5 136.7 694.0 136.8 690.0 135.9C686.0 135.1 686.5 135.0 682.5 134.6C678.5 134.3 678.5 134.1 675.0 134.6C671.5 135.1 671.9 135.1 669.4 136.5C666.9 137.9 667.6 138.5 665.6 139.7C663.6 140.9 663.4 141.0 661.9 141.0C660.4 141.0 659.8 141.0 660.0 139.7C660.2 138.3 661.1 138.1 662.8 135.9C664.6 133.8 664.3 133.6 666.6 131.6C668.8 129.6 668.7 129.8 671.2 128.4C673.8 127.1 674.0 127.8 675.9 126.6C677.8 125.3 678.6 125.0 678.4 123.8C678.1 122.5 677.9 122.8 675.0 121.9C672.1 121.0 671.2 120.9 667.5 120.4C663.8 119.9 662.7 121.1 660.9 120.0C659.2 118.9 661.4 117.8 660.9 116.2C660.4 114.7 660.4 114.4 659.1 114.0C657.7 113.6 657.0 113.7 655.9 114.8C654.7 115.8 655.4 116.0 654.8 118.1C654.1 120.3 655.0 121.2 653.4 122.8C651.8 124.5 652.0 123.8 648.8 124.3C645.5 124.8 645.2 124.3 641.2 124.7C637.2 125.0 637.8 124.6 633.8 125.6C629.8 126.6 629.8 126.7 626.2 128.4C622.7 130.2 623.6 130.5 620.6 132.2C617.6 133.8 617.2 133.5 615.0 134.6C612.8 135.8 612.4 134.9 612.2 136.5C611.9 138.1 612.9 138.0 614.1 140.6C615.2 143.2 615.0 143.0 616.5 146.2C618.0 149.5 618.2 149.2 619.7 152.8C621.2 156.4 621.9 157.8 622.1 159.8C622.4 161.8 622.0 161.7 620.6 160.3C619.2 159.0 618.9 157.7 616.9 154.7C614.9 151.7 614.9 151.8 613.1 149.1C611.4 146.3 612.1 146.0 610.3 144.4C608.6 142.7 608.6 142.9 606.6 142.9C604.6 142.9 604.8 143.7 602.8 144.4C600.8 145.0 600.3 146.2 599.1 145.3C597.8 144.4 599.0 141.9 598.1 141.0C597.3 140.1 596.6 140.7 595.9 142.1C595.1 143.5 595.1 143.6 595.3 146.2C595.5 148.9 595.4 149.6 596.6 151.9C597.9 154.1 597.8 153.1 600.0 154.7C602.2 156.3 602.4 156.1 604.7 157.9C606.9 159.6 607.7 159.6 608.4 161.2C609.2 162.9 608.8 163.8 607.5 164.1C606.2 164.3 605.8 163.0 603.8 162.2C601.8 161.3 602.0 160.4 600.0 160.9C598.0 161.4 598.5 162.5 596.2 164.1C594.0 165.7 593.8 166.5 591.6 166.9C589.3 167.2 588.7 166.6 587.8 165.4C587.0 164.1 587.6 164.5 588.4 162.2C589.1 159.8 589.8 159.8 590.6 156.6C591.5 153.3 591.5 153.7 591.6 150.0C591.7 146.3 591.7 145.6 591.0 142.5C590.3 139.4 590.5 139.3 589.1 138.4C587.8 137.5 587.5 137.5 585.9 139.1C584.3 140.7 584.0 141.5 583.1 144.4C582.3 147.3 583.2 146.8 582.8 150.0C582.3 153.2 583.2 155.2 581.2 156.6C579.3 158.0 578.6 156.0 575.6 155.2C572.6 154.5 573.0 153.2 570.0 153.8C567.0 154.3 567.5 155.8 564.4 157.5C561.3 159.2 560.3 157.3 558.4 160.0Z"/><path d="M777.2 192.5C779.1 191.4 779.0 191.3 780.7 191.8C782.4 192.4 782.5 192.5 783.5 194.6C784.4 196.6 784.2 196.7 784.2 199.4C784.2 202.2 784.0 202.2 783.5 205.0C782.9 207.8 783.2 208.0 782.1 209.9C781.0 211.7 780.6 210.8 779.3 211.9C778.0 213.1 778.5 212.8 777.2 214.0C775.9 215.2 776.3 215.6 774.4 216.4C772.6 217.1 771.9 217.3 770.3 216.8C768.6 216.4 768.7 216.6 768.2 214.7C767.7 212.9 768.6 212.5 768.5 209.9C768.4 207.3 767.3 207.4 767.8 205.0C768.3 202.6 768.7 203.2 770.3 200.8C771.9 198.4 771.9 198.2 773.8 196.0C775.6 193.7 775.4 193.6 777.2 192.5Z"/><path d="M739.0 239.0C740.0 238.7 740.1 240.2 741.8 241.1C743.5 242.0 744.7 241.4 745.3 242.5C745.8 243.6 745.0 244.2 743.9 245.3C742.8 246.4 742.4 245.9 741.1 246.7C739.8 247.4 740.1 248.4 739.0 248.1C738.0 247.7 737.4 246.8 737.2 245.3C737.0 243.8 737.8 244.2 738.3 242.5C738.8 240.8 738.1 239.4 739.0 239.0Z"/><path d="M739.0 250.1C740.1 249.8 740.7 250.4 741.1 252.2C741.5 254.1 741.2 254.7 740.4 257.1C739.7 259.5 739.6 259.6 738.3 261.2C737.0 262.9 736.9 262.4 735.6 263.3C734.3 264.3 735.0 264.7 733.5 264.7C732.0 264.7 731.7 264.3 730.0 263.3C728.3 262.4 727.6 262.3 727.2 261.2C726.8 260.2 727.3 260.0 728.6 259.4C729.9 258.9 730.2 259.8 732.1 259.2C733.9 258.5 734.2 258.6 735.6 257.1C736.9 255.6 736.3 255.5 737.2 253.6C738.1 251.8 738.0 250.5 739.0 250.1Z"/><path d="M636.2 100.0C637.0 98.5 637.1 98.7 640.0 98.0C642.9 97.3 646.0 96.4 647.0 97.5C648.0 98.6 645.6 99.9 643.8 102.0C641.9 104.1 641.8 105.0 640.0 105.5C638.2 106.0 638.0 105.2 637.0 103.8C636.0 102.3 635.5 101.5 636.2 100.0Z"/><path d="M686.2 340.5C688.0 341.2 688.0 341.8 688.0 345.0C688.0 348.2 687.7 348.8 686.2 352.5C684.8 356.2 684.8 355.8 682.5 358.8C680.2 361.8 680.2 363.4 677.5 363.8C674.8 364.1 674.2 362.7 672.5 360.0C670.8 357.3 670.2 357.1 671.2 353.8C672.2 350.4 673.6 350.5 676.2 347.5C678.9 344.5 678.6 344.4 681.2 342.5C683.9 340.6 684.5 339.8 686.2 340.5Z"/><path d="M646.2 324.6C647.4 324.0 648.4 323.5 649.2 325.6C650.1 327.7 648.7 329.4 649.6 332.5C650.6 335.6 651.0 334.7 652.8 337.2C654.7 339.7 654.9 338.9 656.6 341.9C658.2 344.9 658.5 345.5 659.0 348.4C659.5 351.3 659.6 352.5 658.4 352.8C657.3 353.0 656.7 352.0 654.7 349.4C652.7 346.7 652.7 346.1 650.9 342.8C649.2 339.6 649.6 339.9 648.1 337.2C646.6 334.4 646.2 335.0 645.3 332.5C644.5 330.0 644.7 329.9 644.9 327.8C645.2 325.7 645.1 325.2 646.2 324.6Z"/></g>
<ellipse fill="url(#gas)" cx="741.11" cy="212.22" rx="1.81" ry="1.04" transform="rotate(10 741.11 212.22)"/>
<ellipse fill="url(#gas)" cx="741.53" cy="225.14" rx="1.94" ry="3.47" transform="rotate(-10 741.53 225.14)"/>
<ellipse fill="url(#gas)" cx="740.42" cy="234.86" rx="1.25" ry="3.06" transform="rotate(-35 740.42 234.86)"/>
<ellipse fill="url(#gas)" cx="726.53" cy="266.81" rx="1.67" ry="2.5" transform="rotate(20 726.53 266.81)"/>
<ellipse fill="url(#gas)" cx="730.83" cy="264.72" rx="0.83" ry="0.97"/>
<ellipse fill="url(#gas)" cx="716.53" cy="273.75" rx="1.25" ry="1.94" transform="rotate(-20 716.53 273.75)"/>
<ellipse fill="url(#gas)" cx="736.25" cy="122.5" rx="6.25" ry="3.0"/>
<ellipse fill="url(#gas)" cx="750.0" cy="125.75" rx="2.75" ry="1.75" transform="rotate(20 750.0 125.75)"/>
<ellipse fill="url(#gas)" cx="738.75" cy="133.75" rx="3.0" ry="2.0"/>
<ellipse fill="url(#gas)" cx="706.75" cy="136.0" rx="8.0" ry="2.5" transform="rotate(28 706.75 136.0)"/>
<ellipse fill="url(#gas)" cx="781.25" cy="148.75" rx="2.0" ry="1.25" transform="rotate(20 781.25 148.75)"/>
<ellipse fill="url(#gas)" cx="819.25" cy="146.0" rx="2.75" ry="2.0"/>
<ellipse fill="url(#gas)" cx="786.25" cy="195.0" rx="1.75" ry="1.5"/>
<ellipse fill="url(#gas)" cx="793.75" cy="208.75" rx="2.5" ry="1.0" transform="rotate(40 793.75 208.75)"/>
<ellipse fill="url(#gas)" cx="654.0" cy="360.25" rx="5.0" ry="12.25" transform="rotate(-38 654.0 360.25)"/>
<ellipse fill="url(#gas)" cx="671.25" cy="372.5" rx="4.0" ry="1.5" transform="rotate(5 671.25 372.5)"/>
<ellipse fill="url(#gas)" cx="610.0" cy="335.75" rx="2.25" ry="3.5" transform="rotate(-10 610.0 335.75)"/>
<ellipse fill="url(#gas)" cx="637.5" cy="336.75" rx="1.5" ry="1.5"/>
<ellipse fill="url(#gas)" cx="593.75" cy="327.0" rx="1.25" ry="1.25"/>
<ellipse fill="url(#gas)" cx="595.0" cy="338.0" rx="1.25" ry="1.25"/>
<ellipse fill="url(#gas)" cx="597.5" cy="351.25" rx="1.25" ry="1.25"/>
<ellipse fill="url(#gas)" cx="696.75" cy="297.5" rx="1.75" ry="2.75" transform="rotate(-10 696.75 297.5)"/>
<ellipse fill="url(#gas)" cx="695.0" cy="310.75" rx="2.5" ry="2.75"/>
<ellipse fill="url(#gas)" cx="696.25" cy="321.25" rx="1.75" ry="2.0"/>
<ellipse fill="url(#gas)" cx="702.5" cy="337.0" rx="3.0" ry="3.5" transform="rotate(15 702.5 337.0)"/>
<ellipse fill="url(#gas)" cx="695.5" cy="360.5" rx="1.75" ry="3.0" transform="rotate(-40 695.5 360.5)"/>
<ellipse fill="url(#gas)" cx="672.0" cy="307.5" rx="1.25" ry="2.25" transform="rotate(-10 672.0 307.5)"/>
<ellipse fill="url(#gas)" cx="709.5" cy="290.75" rx="1.5" ry="1.5"/>
<ellipse fill="url(#gas)" cx="702.5" cy="376.25" rx="1.25" ry="1.25"/>
<g fill="#f0f4fc"><path d="M454.4 201.2C455.6 199.4 457.8 198.9 460.0 197.5C462.2 196.1 461.4 195.7 462.8 196.0C464.2 196.3 464.0 196.8 465.2 198.4C466.5 200.1 465.9 201.4 467.5 202.2C469.1 202.9 469.2 202.2 471.2 201.2C473.2 200.2 473.1 199.9 475.0 198.4C476.9 196.9 477.1 197.6 478.4 195.6C479.6 193.6 479.7 193.4 479.7 190.9C479.7 188.4 478.5 189.0 478.4 186.2C478.2 183.5 478.1 183.4 479.1 180.6C480.1 177.9 480.3 178.3 482.1 175.9C483.9 173.5 483.9 173.5 485.9 171.6C487.9 169.7 487.9 169.3 489.6 168.8C491.3 168.3 492.1 168.7 492.2 169.8C492.4 170.8 491.6 170.9 490.0 172.8C488.4 174.6 487.9 174.3 486.2 176.5C484.6 178.7 484.3 178.4 483.8 181.0C483.3 183.6 483.5 184.0 484.4 186.2C485.3 188.5 484.9 188.9 487.2 189.6C489.4 190.3 490.2 189.2 492.8 188.9C495.5 188.6 495.8 188.1 497.1 188.5C498.5 188.9 498.5 189.2 497.9 190.4C497.2 191.5 496.5 191.7 494.7 192.8C492.8 194.0 492.1 193.1 490.9 194.7C489.8 196.3 491.9 197.3 490.4 198.8C488.9 200.3 487.2 198.9 485.3 200.3C483.5 201.7 484.7 202.2 483.4 204.1C482.2 205.9 482.9 206.7 480.6 207.2C478.4 207.8 478.2 206.2 475.0 206.1C471.8 206.0 471.2 206.4 468.4 206.9C465.7 207.3 466.7 208.1 464.7 207.8C462.7 207.6 462.4 206.7 460.9 205.9C459.4 205.2 460.6 205.4 459.1 205.0C457.6 204.6 456.6 205.6 455.3 204.6C454.1 203.6 453.1 203.1 454.4 201.2Z"/><path d="M537.2 243.8C537.4 241.0 537.1 240.2 539.1 238.1C541.1 236.0 541.7 236.3 544.7 235.9C547.7 235.5 548.3 235.0 550.3 236.6C552.3 238.2 550.4 239.2 552.2 241.9C553.9 244.5 554.1 244.3 556.9 246.6C559.6 248.8 560.8 248.1 562.5 250.3C564.2 252.6 564.4 252.7 563.4 255.0C562.4 257.3 562.0 257.4 558.8 258.8C555.5 260.1 555.0 260.3 551.2 260.1C547.5 259.8 547.4 259.7 544.7 257.8C541.9 256.0 542.7 255.6 540.9 253.1C539.2 250.6 539.1 250.9 538.1 248.4C537.1 245.9 536.9 246.5 537.2 243.8Z"/><path d="M499.4 246.2C498.9 243.7 499.1 243.1 500.3 240.6C501.6 238.1 501.8 238.1 504.1 236.9C506.3 235.6 506.5 235.9 508.8 235.9C511.0 235.9 510.5 237.4 512.5 236.9C514.5 236.4 514.2 235.3 516.2 234.1C518.2 232.8 518.6 231.7 520.0 232.2C521.4 232.7 520.5 233.7 521.5 235.9C522.5 238.2 522.1 238.4 523.8 240.6C525.4 242.9 526.0 241.9 527.5 244.4C529.0 246.9 530.9 248.9 529.4 250.0C527.9 251.1 525.9 249.2 521.9 248.5C517.9 247.8 518.4 247.3 514.4 247.2C510.4 247.1 510.1 247.4 506.9 248.1C503.6 248.9 504.2 250.5 502.2 250.0C500.2 249.5 499.9 248.8 499.4 246.2Z"/></g>
<g fill="url(#goc)"><path d="M680.0 407.5C681.7 404.8 682.9 405.1 686.2 403.8C689.6 402.4 689.8 403.5 692.5 402.5C695.2 401.5 694.9 401.7 696.2 400.0C697.6 398.3 695.7 397.6 697.5 396.2C699.3 394.9 701.3 396.7 703.0 395.0C704.7 393.3 702.5 391.9 703.8 390.0C705.0 388.1 705.5 387.7 707.5 388.0C709.5 388.3 709.4 390.7 711.2 391.2C713.1 391.8 713.2 391.7 714.5 390.0C715.8 388.3 714.8 387.0 716.2 385.0C717.7 383.0 718.0 382.2 720.0 382.5C722.0 382.8 722.1 383.6 723.8 386.2C725.4 388.9 724.2 389.6 726.2 392.5C728.2 395.4 728.8 396.3 731.2 397.0C733.7 397.7 733.8 397.9 735.5 395.0C737.2 392.1 736.3 389.4 737.5 386.2C738.7 383.1 738.5 383.0 740.0 383.0C741.5 383.0 741.9 383.7 743.2 386.2C744.6 388.8 743.5 389.2 745.0 392.5C746.5 395.8 746.4 395.4 748.8 398.8C751.1 402.1 751.1 401.7 753.8 405.0C756.4 408.3 756.5 407.9 758.8 411.2C761.0 414.6 761.0 413.5 762.0 417.5C763.0 421.5 763.0 421.6 762.5 426.2C762.0 430.9 761.5 430.3 760.0 435.0C758.5 439.7 759.0 439.4 757.0 443.8C755.0 448.1 754.7 448.7 752.5 451.2C750.3 453.8 751.4 453.2 748.8 453.2C746.1 453.2 745.8 452.4 742.5 451.2C739.2 450.1 738.9 450.8 736.2 448.8C733.6 446.8 734.2 446.8 732.5 443.8C730.8 440.8 731.0 440.2 730.0 437.5C729.0 434.8 730.1 434.1 728.8 433.8C727.4 433.4 727.7 436.4 725.0 436.2C722.3 436.1 722.4 434.0 718.8 433.0C715.1 432.0 715.2 432.3 711.2 432.5C707.2 432.7 707.1 432.4 703.8 433.8C700.4 435.1 701.8 436.2 698.8 437.5C695.8 438.8 695.8 437.8 692.5 438.8C689.2 439.8 688.6 441.6 686.2 441.2C683.9 440.9 684.2 440.5 683.8 437.5C683.3 434.5 685.0 434.3 684.5 430.0C684.0 425.7 683.2 425.6 682.0 421.2C680.8 416.9 680.5 417.4 680.0 413.8C679.5 410.1 678.3 410.2 680.0 407.5Z"/><path d="M728.0 360.5C729.8 359.3 732.0 360.1 736.2 360.5C740.5 360.9 740.6 360.5 743.8 362.0C746.9 363.5 745.8 362.8 748.0 366.2C750.2 369.7 752.8 372.5 752.0 375.0C751.2 377.5 748.3 375.6 745.0 375.5C741.7 375.4 742.0 374.3 739.5 374.5C737.0 374.7 737.5 377.4 735.5 376.2C733.5 375.1 733.6 373.0 732.0 370.0C730.4 367.0 730.6 367.5 729.5 365.0C728.4 362.5 726.2 361.7 728.0 360.5Z"/></g>
<ellipse fill="url(#goc)" cx="749.25" cy="459.5" rx="3.5" ry="4.0"/>
<ellipse fill="url(#goc)" cx="720.75" cy="362.0" rx="2.75" ry="1.5" transform="rotate(25 720.75 362.0)"/>
<ellipse fill="url(#goc)" cx="761.75" cy="365.0" rx="4.5" ry="1.5" transform="rotate(38 761.75 365.0)"/>
<ellipse fill="url(#goc)" cx="773.0" cy="375.0" rx="4.5" ry="1.5" transform="rotate(18 773.0 375.0)"/>
<ellipse fill="url(#goc)" cx="780.0" cy="381.75" rx="3.0" ry="1.5" transform="rotate(35 780.0 381.75)"/>
<ellipse fill="url(#goc)" cx="702.75" cy="376.0" rx="1.5" ry="1.5"/>
<ellipse fill="url(#goc)" cx="796.5" cy="338.25" rx="1.5" ry="1.5"/>
<ellipse fill="url(#goc)" cx="695.5" cy="360.5" rx="2.75" ry="1.25" transform="rotate(45 695.5 360.5)"/>
<ellipse fill="#5878ae" cx="793.0" cy="395.5" rx="3.25" ry="1.75" transform="rotate(50 793.0 395.5)"/>
<ellipse fill="#5878ae" cx="787.0" cy="405.75" rx="3.75" ry="2.0" transform="rotate(30 787.0 405.75)"/>
<ellipse fill="#5878ae" cx="810.5" cy="396.25" rx="1.5" ry="1.5"/>
<ellipse fill="#5878ae" cx="815.0" cy="394.25" rx="1.5" ry="1.5"/>
<ellipse fill="#5878ae" cx="765.25" cy="419.25" rx="1.5" ry="1.5"/>
<g fill="#4d6da3"><path d="M800.5 440.0C801.4 438.8 802.2 438.3 803.8 440.0C805.3 441.7 804.6 443.2 806.2 446.2C807.9 449.2 808.9 448.6 810.0 451.2C811.1 453.9 811.2 454.2 810.5 456.2C809.8 458.2 809.1 458.8 807.5 458.8C805.9 458.8 805.8 458.6 804.5 456.2C803.2 453.9 803.6 453.1 802.5 450.0C801.4 446.9 801.0 447.2 800.5 444.5C800.0 441.8 799.6 441.2 800.5 440.0Z"/><path d="M798.8 458.8C800.1 457.6 800.7 456.8 802.0 457.5C803.3 458.2 804.0 458.9 803.8 461.2C803.5 463.6 803.2 463.6 801.2 466.2C799.2 468.9 798.6 468.9 796.2 471.2C793.9 473.6 794.2 473.2 792.5 475.0C790.8 476.8 791.2 478.3 790.0 478.0C788.8 477.7 788.3 476.2 788.0 473.8C787.7 471.3 787.2 471.1 788.8 468.8C790.3 466.4 791.5 466.8 793.8 465.0C796.0 463.2 795.7 463.7 797.0 462.0C798.3 460.3 797.4 459.9 798.8 458.8Z"/></g>
<!-- markers -->
<circle cx="215.6" cy="195.6" r="11.6" fill="#92d050"/>
<circle cx="307.5" cy="352" r="10.6" fill="#ffbf00"/>
<circle cx="465" cy="289.2" r="11" fill="#ffbf00"/>
<circle cx="519" cy="191.2" r="11" fill="#c00000"/>
<circle cx="628.5" cy="229.5" r="11.5" fill="#92d050"/>
<circle cx="627.8" cy="276.3" r="4.4" fill="#92d050"/>
<path d="M627.8 279V327.5H597.5V379" fill="none" stroke="#92d050" stroke-width="3.2" stroke-dasharray="9.2 2.9"/>
<!-- legend dots -->
<circle cx="944.5" cy="194" r="10.5" fill="#c00000"/>
<circle cx="945.5" cy="286" r="10.5" fill="#ffbc00"/>
<circle cx="944.5" cy="377" r="10.5" fill="#a3d65a"/>
<!-- logo -->
<g transform="translate(38.5 27.8)">
<path d="M0 0L0 -20.6A20.6 20.6 0 0 0 -17.84 -10.3Z" fill="#6db3f7"/>
<path d="M0 0L0 -20.6A20.6 20.6 0 0 1 17.84 -10.3Z" fill="#8f9ff8"/>
<path d="M0 0L17.84 -10.3A20.6 20.6 0 0 1 17.84 10.3Z" fill="#8a7fe9"/>
<path d="M0 0L17.84 10.3A20.6 20.6 0 0 1 0 20.6Z" fill="#8368d0"/>
<path d="M0 0L0 20.6A20.6 20.6 0 0 1 -17.84 10.3Z" fill="#7a58b8"/>
<path d="M0 0L-17.84 10.3A20.6 20.6 0 0 1 -17.84 -10.3Z" fill="#8cc9fc"/>
<path d="M0 -20.6V20.6M-17.84 -10.3L17.84 10.3M-17.84 10.3L17.84 -10.3" stroke="#2a1560" stroke-width="0.9" fill="none"/>
<circle r="6" fill="#25104f"/>
</g>
<!-- check icon -->
<path d="M40.63 520.85A16.15 16.15 0 1 0 52.58 535.6" fill="none" stroke="#1fba7d" stroke-width="3.4" stroke-linecap="round"/>
<path d="M30.6 536L36 541.4L47.8 527.5" fill="none" stroke="#1fba7d" stroke-width="3.6" stroke-linecap="round" stroke-linejoin="round"/>
<line x1="15" y1="561.5" x2="1266" y2="561.5" stroke="#a0a0a0" stroke-width="1" stroke-dasharray="2.2 1.2"/>
</svg>
<div class="abs" style="left:62px;top:13px;color:#fff;font-family:'Liberation Sans',sans-serif;font-weight:bold;font-size:14px;line-height:16px;transform:scaleX(1.085);transform-origin:0 0;letter-spacing:0.2px;">NAVISTRAT</div>
<div class="abs" style="left:64px;top:28px;color:#d9c9f2;font-family:'Liberation Sans',sans-serif;font-size:9.5px;line-height:12px;letter-spacing:2.1px;transform:scaleX(1.15);transform-origin:0 0;">ANALYTICS</div>
<div class="abs" id="title"><span style="letter-spacing:-0.257px">Global </span><span style="letter-spacing:0.133px">Floating </span><span style="letter-spacing:0.300px">Offshore </span><span style="letter-spacing:0.160px">Wind </span><span style="letter-spacing:0.100px">Power </span><span style="letter-spacing:0.288px">Market: </span><span style="letter-spacing:0.122px">Regional </span><span style="letter-spacing:-0.025px">Outlook </span><span style="display:inline-block;transform:scaleX(1.16);transform-origin:0 50%">(%)</span></div>

<div class="abs lbl" id="l_na" style="left:193.6px;top:233.5px;transform:scaleX(0.852);">North America</div>
<div class="abs lbl" id="l_la" style="left:281.6px;top:369.5px;transform:scaleX(0.852);">Latin America</div>
<div class="abs lbl" id="l_me" style="left:409.8px;top:316px;transform:scaleX(0.852);">Middle East &amp;Africa</div>
<div class="abs lbl" id="l_eu" style="left:492.2px;top:204px;transform:scaleX(0.852);">Europe</div>
<div class="abs lbl" id="l_as" style="left:589.5px;top:254px;transform:scaleX(0.852);">Asia-Pacific</div>

<div class="abs" id="cagr" style="left:560px;top:395.5px;width:80px;text-align:center;font-family:'Liberation Serif',serif;font-weight:bold;font-size:17px;color:#c00000;line-height:20px;">CAGR</div>
<div class="abs" id="pct" style="left:550px;top:415.5px;width:100px;text-align:center;font-weight:bold;font-size:18.5px;letter-spacing:1px;color:#1f1270;line-height:22px;">45.1%</div>

<div class="abs box" style="left:929px;top:179px;width:32px;height:30px;background:none"></div>
<div class="abs box" style="left:930px;top:270px;width:32px;height:31px;background:none"></div>
<div class="abs box" style="left:929px;top:362px;width:32px;height:30px;background:none"></div>
<div class="abs leg" id="lg1" style="left:968px;top:185.5px;">Mature Market</div>
<div class="abs leg" id="lg2" style="left:967px;top:278px;letter-spacing:-0.34px">Steady Markets</div>
<div class="abs leg" id="lg3" style="left:970px;top:369px;letter-spacing:-0.28px">Emerging Markets</div>

<div class="abs" id="ins">Regional Insights :</div>
<div class="abs" id="grey"></div>
<div class="abs dot" style="left:28.5px;top:585.5px;">•</div>
<div class="abs bl" id="b1" style="left:59px;top:585.6px;"><span style="letter-spacing:.87px"><b>In 2024,</b> </span><span style="letter-spacing:.43px">Europe held the </span><span style="letter-spacing:.26px"><b>largest revenue share</b> </span><span style="letter-spacing:.375px">in the global floating offshore wind power market</span></div>
<div class="abs dot" style="left:28.5px;top:619.5px;">•</div>
<div class="abs bl" id="b2" style="left:59px;top:619.5px;"><span style="letter-spacing:.58px"><b>By 2032,</b> </span><span style="letter-spacing:.34px">Asia-Pacific is expected to record the highest revenue growth</span><span style="letter-spacing:1.2px"><b>,</b> </span><span style="letter-spacing:.42px">with a </span><span style="letter-spacing:.79px"><b>CAGR of 45.1%</b></span></div>
</body></html>
